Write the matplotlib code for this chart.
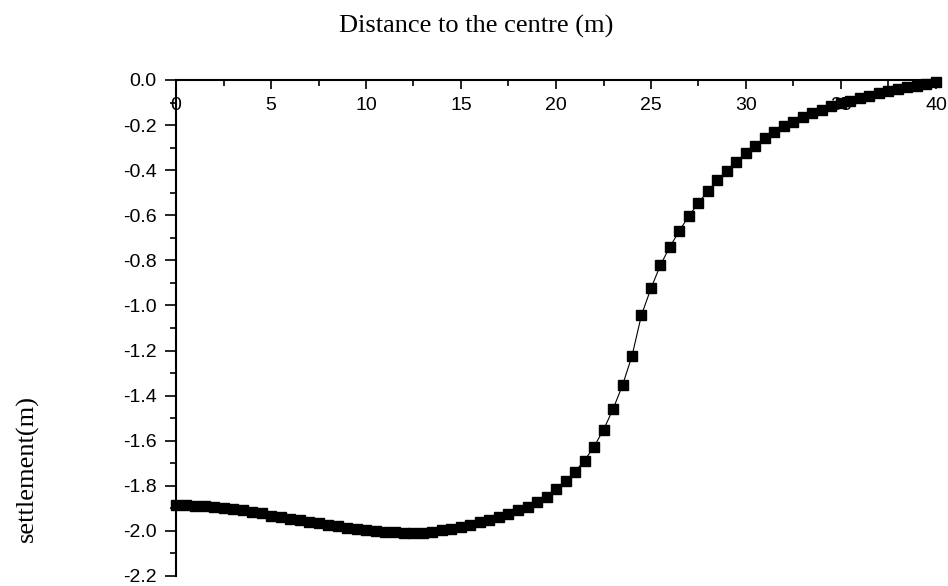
import matplotlib.pyplot as plt
import numpy as np
from matplotlib.ticker import MultipleLocator

# distance to the centre (m), every 0.5 m
distance = [i * 0.5 for i in range(81)]

settlement = [
  -1.886, -1.887, -1.889, -1.891, -1.894, -1.898, -1.903, -1.909, -1.915, -1.922,
  -1.932, -1.939, -1.946, -1.953, -1.960, -1.967, -1.973, -1.979, -1.985, -1.990,
  -1.995, -1.999, -2.003, -2.006, -2.008, -2.009, -2.008, -2.004, -1.998, -1.991,
  -1.982, -1.972, -1.961, -1.950, -1.938, -1.924, -1.909, -1.893, -1.872, -1.848,
  -1.815, -1.780, -1.737, -1.688, -1.626, -1.552, -1.460, -1.354, -1.224, -1.042,
  -0.924, -0.820, -0.739, -0.668, -0.602, -0.545, -0.491, -0.443, -0.402, -0.362,
  -0.325, -0.293, -0.259, -0.229, -0.205, -0.185, -0.165, -0.148, -0.132, -0.117,
  -0.103, -0.091, -0.080, -0.069, -0.059, -0.050, -0.041, -0.033, -0.026, -0.018,
  -0.010,
]

x_label = "Distance to the centre (m)"
y_label = "settlement(m)"

plt.rcParams['font.family'] = ['Liberation Sans', 'DejaVu Sans']

fig = plt.figure(figsize=(9.48, 5.86), dpi=100)
ax = fig.add_axes([176 / 948, 10 / 586, 760 / 948, 496 / 586])

ax.plot(distance, settlement, color='black', linewidth=0.8,
        marker='s', markersize=7, markerfacecolor='black',
        markeredgecolor='black', clip_on=False)

ax.set_xlim(0, 40)
ax.set_ylim(-2.2, 0)

# x axis drawn along y = 0 at the top, ticks and labels hanging down
ax.spines['bottom'].set_position(('data', 0))
ax.spines['top'].set_visible(False)
ax.spines['right'].set_visible(False)
for s in ('bottom', 'left'):
  ax.spines[s].set_linewidth(1.5)

ax.xaxis.set_major_locator(MultipleLocator(5))
ax.xaxis.set_minor_locator(MultipleLocator(2.5))
ax.yaxis.set_major_locator(MultipleLocator(0.2))
ax.yaxis.set_minor_locator(MultipleLocator(0.1))
ax.set_yticks(np.round(np.arange(-2.2, 0.01, 0.2), 1))
ax.yaxis.set_major_formatter(plt.FuncFormatter(lambda v, p: f"{v:.1f}"))

ax.tick_params(axis='x', which='major', direction='out', length=6.5, width=1.2,
               pad=6, labelsize=14)
ax.tick_params(axis='x', which='minor', direction='out', length=4.3, width=1.2)
ax.tick_params(axis='y', which='major', direction='out', length=8, width=1.2,
               pad=6, labelsize=14)
ax.tick_params(axis='y', which='minor', direction='out', length=4, width=1.2)

fig.text(476 / 948, 1 - 26 / 586, x_label, ha='center', va='center',
         fontsize=19, family='Liberation Serif')
fig.text(27 / 948, 1 - 468 / 586, y_label, ha='center', va='center',
         rotation=90, fontsize=19, family='Liberation Serif')

plt.savefig('out.png', dpi=100)
